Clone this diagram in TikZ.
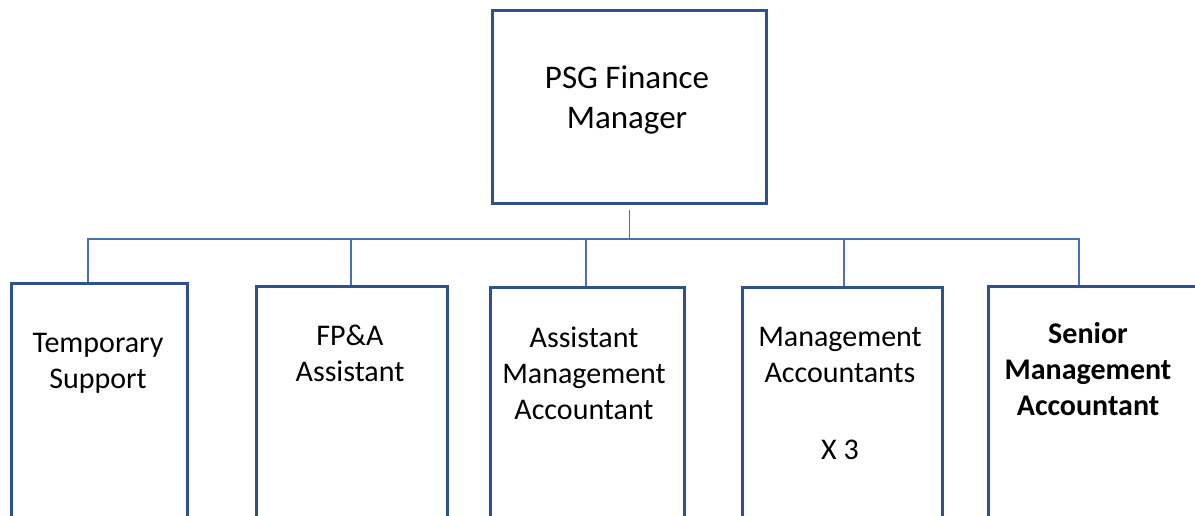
\documentclass[tikz,border=0pt]{standalone}
\usepackage{fontspec}
\setmainfont{Carlito}
\definecolor{boxblue}{HTML}{2F528F}
\definecolor{lineblue}{HTML}{4A6FB0}
\tikzset{
  post/.style={draw=boxblue, line width=2.6pt, rectangle, anchor=north west, minimum height=300pt},
  link/.style={draw=lineblue, line width=1.3pt},
  txt/.style={align=center, anchor=north, inner sep=0pt, font=\fontsize{30}{36}\selectfont}
}
\begin{document}
\begin{tikzpicture}[x=1pt,y=-1pt]

    % --- Canvas ---
    \useasboundingbox (0,0) rectangle (1195,515);
    \clip (0,0) rectangle (1195,515);

    % --- Boxes ---
    % top box
    \node[post, minimum width=274pt, minimum height=193pt] (boss) at (491,9) {};

    % bottom row, cut off by the lower edge
    \node[post, minimum width=176pt] (temp) at (10,282) {};
    \node[post, minimum width=191pt] (fpa) at (255,285) {};
    \node[post, minimum width=194pt] (ama) at (489,286) {};
    \node[post, minimum width=200pt] (ma) at (741,286) {};
    \node[post, minimum width=210pt] (sma) at (987,285) {};

    % --- Labels ---
    \node[txt, font=\fontsize{33}{40}\selectfont] (boss-label) at (627,66) {PSG Finance\\Manager};
    \node[txt] (temp-label) at (98,333) {Temporary\\Support};
    \node[txt] (fpa-label) at (350,325) {FP\&A\\Assistant};
    \node[txt] (ama-label) at (584,327) {Assistant\\Management\\Accountant};
    \node[txt] (ma-label) at (840,327) {Management\\Accountants\\[41pt]X 3};
    \node[txt, font=\fontsize{30}{36}\selectfont\bfseries] (sma-label) at (1088,322) {Senior\\Management\\Accountant};

    % --- Bus line and taps ---
    \coordinate (bus-l) at (88,239);
    \coordinate (bus-r) at (1079,239);
    \coordinate (tap2) at (351,239);
    \coordinate (tap3) at (586,239);
    \coordinate (tap4) at (844,239);

    \draw[link] ([yshift=-5pt]boss.south) -- (boss.south |- bus-l);
    \draw[link] (bus-l |- temp.north) -- (bus-l) -- (bus-r) -- (bus-r |- sma.north);
    \draw[link] (tap2) -- (tap2 |- fpa.north);
    \draw[link] (tap3) -- (tap3 |- ama.north);
    \draw[link] (tap4) -- (tap4 |- ma.north);

\end{tikzpicture}
\end{document}
